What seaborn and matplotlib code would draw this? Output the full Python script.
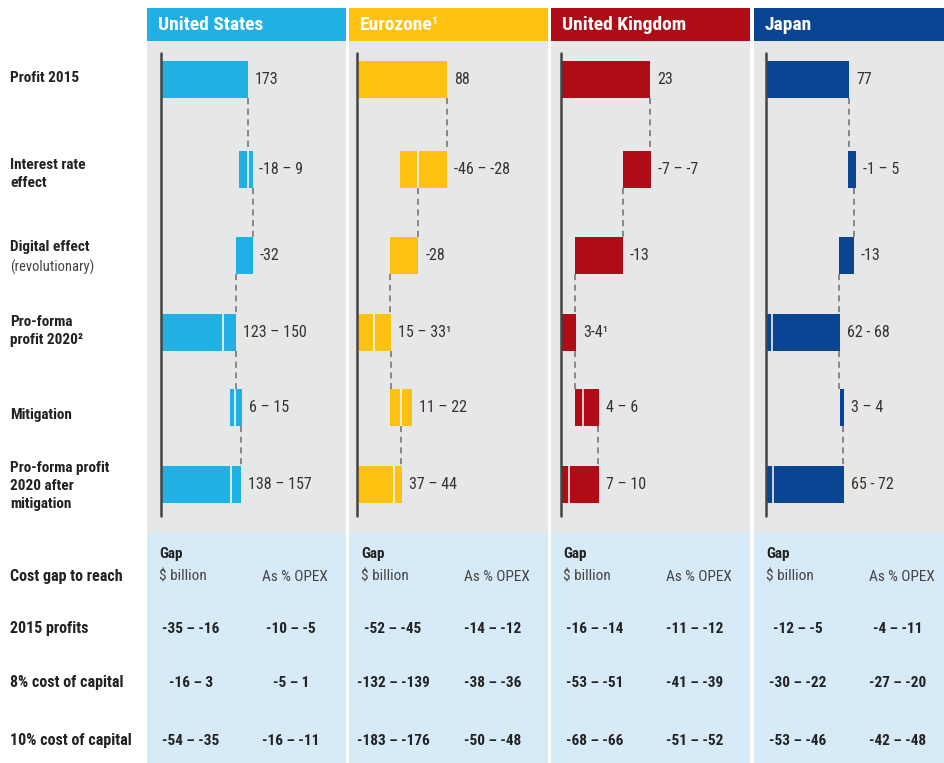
import numpy as np
import pandas as pd
import seaborn as sns
import matplotlib.pyplot as plt

# --- data ------------------------------------------------------------------
countries = ["United States", "Eurozone¹", "United Kingdom", "Japan"]
steps = [
    "Profit 2015",
    "Interest rate\neffect",
    "Digital effect",
    "Pro-forma\nprofit 2020²",
    "Mitigation",
    "Pro-forma profit\n2020 after\nmitigation",
]
step_notes = ["", "", "(revolutionary)", "", "", ""]

# $ billion, floating bars (start, end), white split mark, dashed link values
us_start = [0, 155, 150, 0, 137, 0]
us_end = [173, 182, 182, 150, 161, 160]
us_split = [np.nan, 173, np.nan, 123, 148, 139]
us_link = [173, 182, 150, 150, 160]
us_labels = ["173", "-18 – 9", "-32", "123 – 150", "6 – 15", "138 – 157"]

ez_start = [0, 42, 32, 0, 32, 0]
ez_end = [88, 88, 60, 33, 54, 44]
ez_split = [np.nan, 60, np.nan, 17, 43, 36]
ez_link = [88, 60, 32, 33, 43]
ez_labels = ["88", "-46 – -28", "-28", "15 – 33¹", "11 – 22", "37 – 44"]

uk_start = [0, 16, 3.6, 0, 3.6, 0]
uk_end = [23, 23.3, 16, 3.9, 9.8, 9.8]
uk_split = [np.nan, np.nan, np.nan, np.nan, 5.6, 2.0]
uk_link = [23, 16, 3.6, 3.6, 9.6]
uk_labels = ["23", "-7 – -7", "-13", "3-4¹", "4 – 6", "7 – 10"]

jp_start = [0, 76, 68, 0, 68.6, 0]
jp_end = [77, 83.5, 81.6, 68.6, 72.4, 72.4]
jp_split = [np.nan, np.nan, np.nan, 5.6, np.nan, 6.5]
jp_link = [77, 82, 68, 68, 71.5]
jp_labels = ["77", "-1 – 5", "-13", "62 - 68", "3 – 4", "65 - 72"]

table_rows = ["2015 profits", "8% cost of capital", "10% cost of capital"]
us_gap_bn = ["-35 – -16", "-16 – 3", "-54 – -35"]
us_gap_pct = ["-10 – -5", "-5 – 1", "-16 – -11"]
ez_gap_bn = ["-52 – -45", "-132 – -139", "-183 – -176"]
ez_gap_pct = ["-14 – -12", "-38 – -36", "-50 – -48"]
uk_gap_bn = ["-16 – -14", "-53 – -51", "-68 – -66"]
uk_gap_pct = ["-11 – -12", "-41 – -39", "-51 – -52"]
jp_gap_bn = ["-12 – -5", "-30 – -22", "-53 – -46"]
jp_gap_pct = ["-4 – -11", "-27 – -20", "-42 – -48"]

# --- layout / style ----------------------------------------------------------
W, H = 944, 763
colors = ["#21b0e4", "#fdc112", "#b00c17", "#0a4594"]
panel_left = [147, 349, 551, 754]
panel_width = [199, 199, 199, 190]
axis_offset = [14, 8, 10, 12]          # px from panel edge to zero line
px_per_unit = [0.503, 1.023, 3.87, 1.078]
row_y = [80, 170, 256, 333, 408, 485]  # px, bar centres
label_y = [78, 174, 257, 331, 415, 486]
table_y = [629, 683, 741]
bar_h = 37
gray_bg = "#e6e7e9"
blue_bg = "#d6eaf8"
text_dark = "#222222"

sns.set_theme(style="white")
plt.rcParams["font.family"] = ["Roboto Condensed", "DejaVu Sans"]


def fig_box(x, y, w, h):
    return [x / W, 1 - (y + h) / H, w / W, h / H]


def clean(ax):
    ax.set_xticks([])
    ax.set_yticks([])
    for s in ax.spines.values():
        s.set_visible(False)


fig = plt.figure(figsize=(W / 100, H / 100), dpi=100)

panels = [
    (us_start, us_end, us_split, us_link, us_labels, us_gap_bn, us_gap_pct),
    (ez_start, ez_end, ez_split, ez_link, ez_labels, ez_gap_bn, ez_gap_pct),
    (uk_start, uk_end, uk_split, uk_link, uk_labels, uk_gap_bn, uk_gap_pct),
    (jp_start, jp_end, jp_split, jp_link, jp_labels, jp_gap_bn, jp_gap_pct),
]

for i, (start, end, split, link, labels, gap_bn, gap_pct) in enumerate(panels):
    left, width = panel_left[i], panel_width[i]
    df = pd.DataFrame(
        {"step": steps, "start": start, "end": end, "split": split,
         "label": labels, "y": row_y}
    )

    # header band
    hax = fig.add_axes(fig_box(left, 8, width, 33))
    hax.set_facecolor(colors[i])
    clean(hax)
    hax.text(11 / width, 0.47, countries[i], transform=hax.transAxes,
             color="white", fontsize=14, fontweight="bold", va="center")

    # waterfall panel
    ax = fig.add_axes(fig_box(left, 41, width, 492))
    ax.set_facecolor(gray_bg)
    off, sc = axis_offset[i], px_per_unit[i]
    ax.set_xlim(-off / sc, (width - off) / sc)
    ax.set_ylim(533, 41)
    ax.barh(df["y"], df["end"] - df["start"], left=df["start"],
            height=bar_h, color=colors[i], linewidth=0)
    sp = df.dropna(subset=["split"])
    ax.vlines(sp["split"], sp["y"] - bar_h / 2, sp["y"] + bar_h / 2,
              color="white", lw=1.3, alpha=0.85)
    for k in range(len(link)):
        ax.plot([link[k], link[k]],
                [row_y[k] + bar_h / 2, row_y[k + 1] - bar_h / 2],
                color="#6e6e6e", lw=1.1, linestyle=(0, (4, 3)))
    ax.plot([0, 0], [53, 516], color="#444444", lw=1.8)
    for _, r in df.iterrows():
        ax.annotate(r["label"], (r["end"], r["y"]), xytext=(5, 0),
                    textcoords="offset points", va="center", ha="left",
                    fontsize=11.5, color="#333333")
    clean(ax)

    # cost gap table
    tax = fig.add_axes(fig_box(left, 533, width, H - 533))
    tax.set_facecolor(blue_bg)
    tax.set_xlim(0, width)
    tax.set_ylim(H, 533)
    clean(tax)
    tax.text(12, 554, "Gap", fontsize=11, fontweight="bold", color=text_dark,
             va="center", ha="left")
    tax.text(12, 577, "$ billion", fontsize=11, color="#444444",
             va="center", ha="left")
    tax.text(115, 577, "As % OPEX", fontsize=11, color="#444444",
             va="center", ha="left")
    for k, ty in enumerate(table_y):
        tax.text(44, ty, gap_bn[k], fontsize=11, fontweight="bold",
                 color=text_dark, va="center", ha="center")
        tax.text(144, ty, gap_pct[k], fontsize=11, fontweight="bold",
                 color=text_dark, va="center", ha="center")

# row labels on the left
for k, lab in enumerate(steps):
    if step_notes[k]:
        fig.text(10 / W, 1 - (label_y[k] - 10) / H, lab, fontsize=11,
                 fontweight="bold", color=text_dark, va="center", ha="left")
        fig.text(10 / W, 1 - (label_y[k] + 10) / H, step_notes[k],
                 fontsize=10.5, color="#444444", va="center", ha="left")
    else:
        fig.text(10 / W, 1 - label_y[k] / H, lab, fontsize=11,
                 fontweight="bold", color=text_dark, va="center", ha="left",
                 linespacing=1.38)

fig.text(10 / W, 1 - 577 / H, "Cost gap to reach", fontsize=11.5,
         fontweight="bold", color=text_dark, va="center", ha="left")
for k, ty in enumerate(table_y):
    fig.text(10 / W, 1 - ty / H, table_rows[k], fontsize=11.5,
             fontweight="bold", color=text_dark, va="center", ha="left")

fig.savefig("out.png", dpi=100, facecolor="white")
